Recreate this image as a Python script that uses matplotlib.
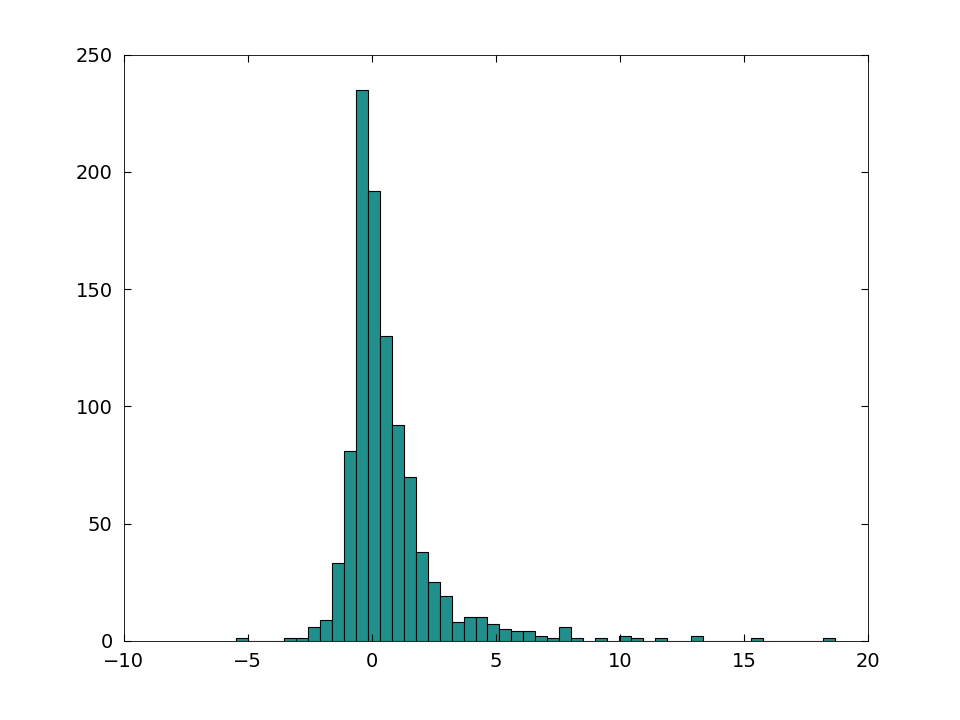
import matplotlib
matplotlib.use("Agg")
import matplotlib.pyplot as plt
import numpy as np

counts = [1,0,0,0,1,1,6,9,33,81,235,192,130,92,70,38,25,19,8,10,10,7,5,4,4,2,1,6,1,0,
          1,0,2,1,0,1,0,0,2,0,0,0,0,1,0,0,0,0,0,1]
bin_start = -5.48
bin_width = 0.483

edges = bin_start + bin_width*np.arange(len(counts))
fig = plt.figure(figsize=(9.6,7.2), dpi=100)
ax = fig.add_axes([0.129,0.110,0.775,0.814])
ax.bar(edges, counts, width=bin_width, align='edge', color='#21908d', edgecolor='black', linewidth=0.8)
ax.set_xlim(-10,20)
ax.set_ylim(0,250)
ax.set_xticks([-10,-5,0,5,10,15,20])
ax.set_yticks([0,50,100,150,200,250])
ax.tick_params(direction='in', top=True, right=True, labelsize=14, length=5, pad=8)
for s in ax.spines.values():
    s.set_linewidth(0.6)
fig.savefig("out.png")
